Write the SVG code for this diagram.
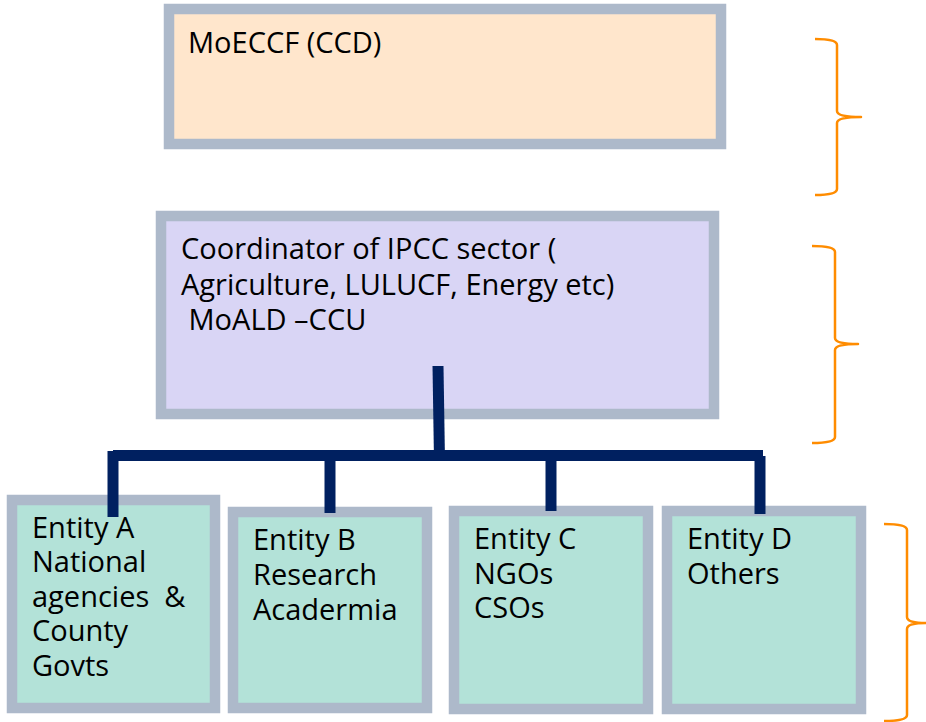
<svg xmlns="http://www.w3.org/2000/svg" width="926" height="722" viewBox="0 0 926 722">
<style>
.box{stroke:#ADB9CA;stroke-width:10.5}
.peach{fill:#FFE6CC}
.lav{fill:#D9D5F5}
.mint{fill:#B3E2D8}
.t{font-family:"Open Sans","Noto Sans","Liberation Sans",sans-serif;font-size:29px;fill:#000}
.conn{stroke:#002060;stroke-width:11;fill:none;stroke-linecap:butt}
.brace{stroke:#FF8C00;stroke-width:2.5;fill:none;stroke-linejoin:round}
</style>
<rect width="926" height="722" fill="#fff"/>
<g id="moeccf">
<rect class="box peach" x="169" y="9" width="552" height="135"/>
<text class="t" x="188" y="53">MoECCF (CCD)</text>
</g>
<g id="coordinator">
<rect class="box lav" x="161" y="216" width="553" height="198"/>
<text class="t" xml:space="preserve"><tspan x="181" y="259">Coordinator of IPCC sector (</tspan><tspan x="181" y="295">Agriculture, LULUCF, Energy etc)</tspan><tspan x="181" y="330"> MoALD –CCU</tspan></text>
</g>
<g id="entityA">
<rect class="box mint" x="12" y="500" width="203" height="208"/>
<text class="t" xml:space="preserve"><tspan x="32" y="538">Entity A</tspan><tspan x="32" y="572">National</tspan><tspan x="32" y="607">agencies  &amp;</tspan><tspan x="32" y="641">County</tspan><tspan x="32" y="676">Govts</tspan></text>
</g>
<g id="entityB">
<rect class="box mint" x="233" y="512" width="194" height="196"/>
<text class="t"><tspan x="253" y="550">Entity B</tspan><tspan x="253" y="585">Research</tspan><tspan x="253" y="620">Acadermia</tspan></text>
</g>
<g id="entityC">
<rect class="box mint" x="454" y="511" width="194" height="198"/>
<text class="t"><tspan x="474" y="549">Entity C</tspan><tspan x="474" y="584">NGOs</tspan><tspan x="474" y="618">CSOs</tspan></text>
</g>
<g id="entityD">
<rect class="box mint" x="667" y="511" width="194" height="198"/>
<text class="t"><tspan x="687" y="549">Entity D</tspan><tspan x="687" y="584">Others</tspan></text>
</g>
<g id="connectors">
<path class="conn" d="M438 366 L439.5 461"/>
<path class="conn" d="M113 455.5 H763"/>
<path class="conn" d="M113 451 V517"/>
<path class="conn" d="M330 456 V513"/>
<path class="conn" d="M551 456 V511"/>
<path class="conn" d="M760 456 V514"/>
</g>
<g id="braces">
<path class="brace" d="M815,39 Q837,39 837,45 V111 Q837,117 861,117 Q837,117 837,123 V189 Q837,195 815,195"/>
<path class="brace" d="M812,246 Q835,246 835,252 V338 Q835,344 858,344 Q835,344 835,350 V437 Q835,443 812,443"/>
<path class="brace" d="M884,524 Q907,524 907,530 V617 Q907,623 926,623 Q907,623 907,629 V715 Q907,721 884,721"/>
</g>
</svg>
